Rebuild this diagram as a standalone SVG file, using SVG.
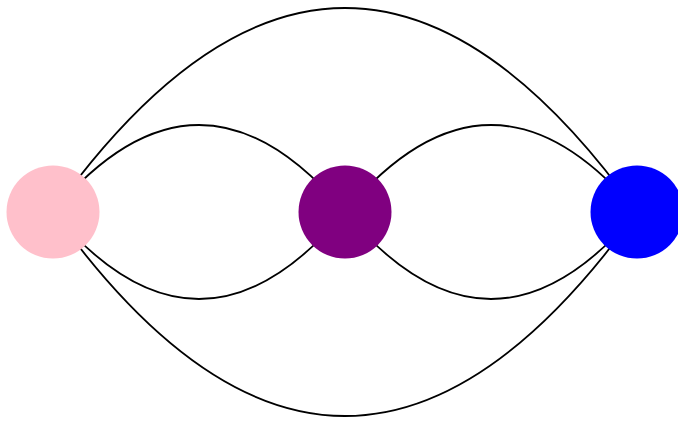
<svg xmlns="http://www.w3.org/2000/svg" width="678" height="421" viewBox="0 0 678 421">
<style>
.edge{fill:none;stroke:#000;stroke-width:1.8}
</style>
<rect width="678" height="421" fill="#fff"/>
<g id="edges">
<path class="edge" d="M53,212 Q199,38 345,212"/>
<path class="edge" d="M53,212 Q199,386 345,212"/>
<path class="edge" d="M345,212 Q491,38 637,212"/>
<path class="edge" d="M345,212 Q491,386 637,212"/>
<path class="edge" d="M53,212 Q345,-196 637,212"/>
<path class="edge" d="M53,212 Q345,620 637,212"/>
</g>
<g id="node-pink"><circle cx="53" cy="212" r="46.5" fill="#FFC0CB"/></g>
<g id="node-purple"><circle cx="345" cy="212" r="46.5" fill="#800080"/></g>
<g id="node-blue"><circle cx="637" cy="212" r="46.5" fill="#0000FF"/></g>
</svg>
